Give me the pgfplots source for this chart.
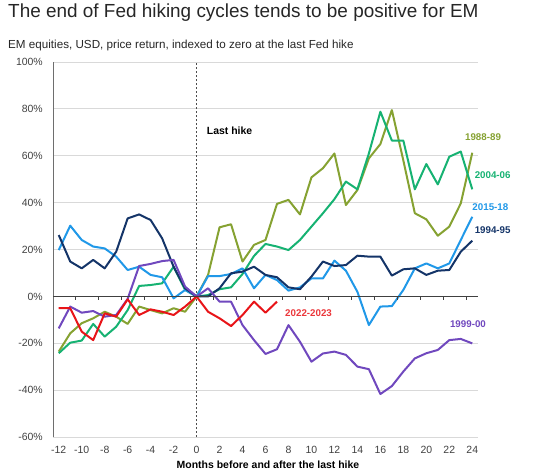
\documentclass[border=0pt]{standalone}
\usepackage{fontspec}
\setmainfont{Liberation Sans}
\usepackage{pgfplots}
\usepackage{pgfplotstable}
\pgfplotsset{compat=1.18}

\definecolor{cOlive}{RGB}{134,162,50}
\definecolor{cGreen}{RGB}{22,178,114}
\definecolor{cLight}{RGB}{32,152,232}
\definecolor{cNavy}{RGB}{20,52,104}
\definecolor{cPurple}{RGB}{112,72,190}
\definecolor{cRed}{RGB}{232,20,24}
\definecolor{cGrid}{RGB}{217,217,217}
\definecolor{cAxis}{RGB}{110,110,110}
\definecolor{cText}{RGB}{64,64,64}

% months relative to the last Fed hike, return in %
\pgfplotstableread{
m    s8889  s0406  s1518  s9495  s9900
-12  -23.5  -24.2   19.8   26.2  -13.6
-11  -15.7  -19.7   30.2   14.9   -4.3
-10  -11.4  -18.8   24.1   12.0   -6.9
-9    -9.3  -11.7   21.3   15.6   -6.2
-8    -6.5  -17.1   20.5   12.0   -8.6
-7    -8.6  -12.9   17.0   19.1   -7.9
-6   -11.7   -5.8   11.3   33.3   -1.0
-5    -4.3    4.5   12.7   35.0   13.0
-4    -5.8    4.9    9.2   32.6   13.9
-3    -7.2    5.6    8.2   24.8   15.1
-2    -5.0   12.7   -0.8   12.7   15.6
-1    -6.5    2.8    2.8    3.5    4.2
0      0.0    0.0    0.0    0.0    0.0
1      9.2    0.6    8.7    0.0    3.5
2     29.5    3.1    8.7    3.5   -2.2
3     30.8    3.9    9.6    9.9   -2.2
4     14.9    9.6   12.0   10.6  -12.2
5     22.0   17.3    3.5   12.7  -18.6
6     24.1   22.4    9.2    9.2  -24.5
7     39.5   21.3    7.0    8.2  -22.5
8     41.2   19.8    2.5    3.9  -12.2
9     35.0   24.1    3.9    3.1  -19.3
10    50.8   29.8    7.7    8.5  -27.8
11    54.7   35.5    7.7   14.9  -24.3
12    61.0   41.5   15.3   13.0  -23.5
13    39.0   49.0   11.0   13.4  -24.9
14    45.4   45.7    2.0   17.4  -29.9
15    58.9   61.0  -12.2   17.0  -31.0
16    65.0   78.8   -4.3   17.0  -41.6
17    79.5   66.5   -4.1    8.9  -38.2
18    58.0   66.5    2.8   11.6  -32.0
19    35.5   45.7   12.0   12.0  -26.4
20    32.9   56.5   14.1    9.2  -24.2
21    25.9   47.8   12.0   11.0  -22.8
22    29.8   59.6   14.1   11.3  -18.6
23    39.7   61.8   24.1   19.1  -18.1
24    61.3   45.7   34.0   23.8  -20.0
}\cycles

\pgfplotstableread{
m    s2223
-12   -5.0
-11   -5.0
-10  -15.0
-9   -18.6
-8    -7.2
-7    -8.6
-6    -1.2
-5    -7.9
-4    -5.5
-3    -6.5
-2    -7.9
-1    -4.3
0      0.0
1     -6.5
2     -9.3
3    -12.6
4     -7.9
5     -2.2
6     -6.9
7     -2.2
}\latest

\begin{document}
\begin{tikzpicture}[x=1bp,y=1bp]
\useasboundingbox (0,0) rectangle (540,475);

\node[anchor=base west, inner sep=0pt, text=black!85]
  at (8,457.7) {\fontsize{19}{22}\selectfont The end of Fed hiking cycles tends to be positive for EM};
\node[anchor=base west, inner sep=0pt, text=black!85]
  at (8,426.7) {\fontsize{11.7}{13}\selectfont EM equities, USD, price return, indexed to zero at the last Fed hike};

\begin{axis}[
    at={(53bp,37.8bp)}, anchor=south west,
    scale only axis,
    width=425bp, height=375.2bp,
    xmin=-12.5, xmax=24.5,
    ymin=-60, ymax=100,
    clip=false,
    axis line style={draw=none},
    major tick length=0pt,
    xtick={-12,-10,...,24},
    xticklabels={-12,-10,-8,-6,-4,-2,0,2,4,6,8,10,12,14,16,18,20,22,24},
    ytick={-60,-40,...,100},
    yticklabels={-60\%,-40\%,-20\%,0\%,20\%,40\%,60\%,80\%,100\%},
    ymajorgrids,
    grid style={cGrid, line width=0.8bp},
    tick label style={font=\fontsize{10.5}{12}\selectfont, text=cText, inner sep=0pt},
    xticklabel style={anchor=north, yshift=-8.5bp},
    yticklabel style={anchor=east, xshift=-10bp},
    every axis plot/.append style={line width=2bp, line join=round, no markers},
]

\draw[cAxis, line width=1bp] (rel axis cs:0,0) -- (rel axis cs:0,1);
\draw[black!70, line width=1.2bp, dash pattern=on 2.5bp off 1.5bp]
  (axis cs:0,-60) -- (axis cs:0,100);

\addplot[cOlive]  table[x=m, y=s8889] {\cycles};
\addplot[cGreen]  table[x=m, y=s0406] {\cycles};
\addplot[cLight]  table[x=m, y=s1518] {\cycles};
\addplot[cNavy]   table[x=m, y=s9495] {\cycles};
\addplot[cPurple] table[x=m, y=s9900] {\cycles};
\addplot[cRed]    table[x=m, y=s2223] {\latest};

\draw[black!75, line width=1.2bp] (axis cs:-12.5,0) -- (axis cs:24.5,0);
\pgfplotsinvokeforeach{-10.5,-8.5,-6.5,-4.5,-2.5,-0.5,1.5,3.5,5.5,7.5,9.5,11.5,13.5,15.5,17.5,19.5,21.5,23.5}{
  \draw[black!75, line width=1bp] (axis cs:#1,0) -- ++(0bp,-3.5bp);
}

\begin{scope}[every node/.style={anchor=west, inner sep=0pt,
    font=\fontsize{9.8}{12}\selectfont\bfseries}]
\node[text=black] at (axis cs:0.88,70.7) {\fontsize{10.5}{12}\selectfont Last hike};
\node[text=cOlive]  at (axis cs:23.36,68) {1988-89};
\node[text=cGreen]  at (axis cs:24.2,51.8) {2004-06};
\node[text=cLight]  at (axis cs:24.0,37.9) {2015-18};
\node[text=cNavy]   at (axis cs:24.2,28.4) {1994-95};
\node[text=cPurple] at (axis cs:22.05,-11.9) {1999-00};
\node[text=cRed!85!white] at (axis cs:7.7,-7.1) {2022-2023};
\end{scope}
\end{axis}

\node[anchor=base, inner sep=0pt, text=black]
  at (268,6) {\fontsize{10.5}{12}\selectfont\bfseries Months before and after the last hike};
\end{tikzpicture}
\end{document}
